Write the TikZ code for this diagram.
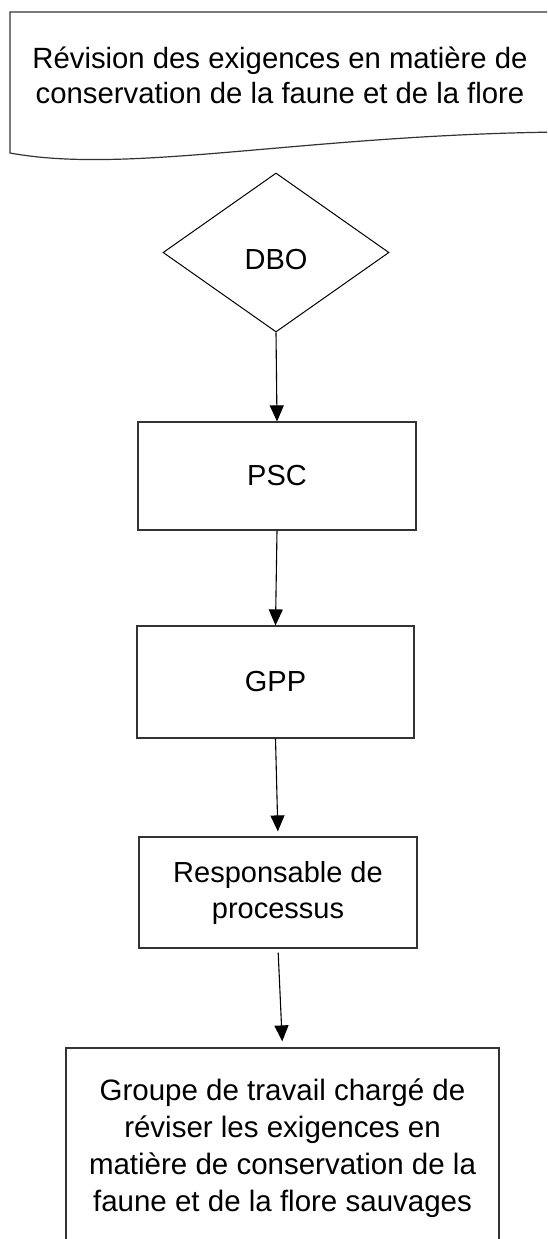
\documentclass[tikz,border=0pt]{standalone}
\usepackage{fontspec}
\setmainfont{Liberation Sans}
\usetikzlibrary{shapes.geometric,arrows.meta}
\begin{document}
\begin{tikzpicture}[x=1pt,y=-1pt,
  lbl/.style={font=\fontsize{29}{36}\selectfont,align=center,text=black},
  box/.style={lbl,draw=black!80,line width=1.2pt,rectangle,inner sep=0pt},
  arr/.style={draw=black,line width=1.1pt,-{Triangle[length=16pt,width=14pt]}}]
\clip (0,0) rectangle (547,1239);
\fill[white] (0,0) rectangle (547,1239);
% document shape (cut at the right edge)
\draw[black!80,line width=1.2pt] (560,12) -- (10,12) -- (10,153)
  .. controls (130,175) and (300,135) .. (560,132);
\node[lbl,font=\fontsize{29.3}{35}\selectfont] (title) at (280,75.5)
  {Révision des exigences en matière de\\conservation de la faune et de la flore};
\node[lbl,draw=black,line width=1pt,shape=diamond,inner sep=0pt,
  text height=33pt,text depth=0pt,
  minimum width=226pt,minimum height=159pt] (dbo) at (276,252.5) {DBO};
\node[box,minimum width=278pt,minimum height=108pt] (psc) at (277,476) {PSC};
\node[box,minimum width=277pt,minimum height=112pt] (gpp) at (275.5,682) {GPP};
\node[box,minimum width=278pt,minimum height=111pt] (resp) at (278,892.5)
  {Responsable de\\processus};
\node[box,minimum width=433pt,minimum height=200pt,font=\fontsize{29.5}{37}\selectfont] (grp) at (282.5,1148)
  {Groupe de travail chargé de\\réviser les exigences en\\matière de conservation de la\\faune et de la flore sauvages};
\draw[arr] (dbo.south) -- (psc.north);
\draw[arr] (psc.south) -- (gpp.north);
\draw[arr,shorten >=5pt] (gpp.south) -- (resp.north);
\draw[arr,shorten <=4pt,shorten >=6pt] (resp.south) -- (grp.north);
\end{tikzpicture}
\end{document}
